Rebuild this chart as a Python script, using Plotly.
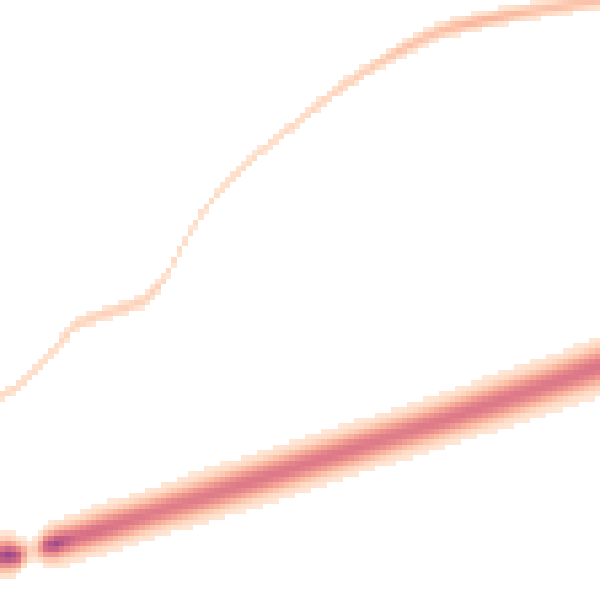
import numpy as np
import plotly.graph_objects as go

# Grid of bins (columns x rows)
n_cols = 112
n_rows = 112
extent = 600.0

# Upper thin curve: key positions (x, centre y, peak density)
upper_x = [0, 20, 45, 75, 100, 125, 145, 155, 165, 180, 200, 225, 260, 300, 340, 380, 410, 430, 450, 480, 510, 540, 570, 600]
upper_y = [397, 385, 360, 325, 315, 308, 300, 290, 278, 250, 215, 185, 152, 120, 88, 62, 45, 35, 28, 21, 15, 10, 5, 1]
upper_peak = [0.22, 0.22, 0.2, 0.24, 0.26, 0.26, 0.26, 0.26, 0.22, 0.2, 0.2, 0.2, 0.2, 0.22, 0.25, 0.3, 0.36, 0.34, 0.38, 0.42, 0.4, 0.34, 0.36, 0.34]
upper_width = [5, 5, 5, 6, 6, 6, 6, 6, 5, 5, 5, 5, 5, 5, 6, 6, 7, 7, 7, 7, 7, 7, 7, 7]

# Lower thick band: key positions (x, centre y, peak density, half width)
band_x = [0, 10, 20, 28, 36, 45, 55, 75, 100, 150, 200, 250, 300, 350, 400, 450, 500, 550, 600]
band_y = [556, 555, 556, 552, 549, 546, 544, 538, 530, 514, 498, 482, 466, 450, 434, 418, 401, 384, 366]
band_peak = [0.92, 1.0, 0.85, 0.25, 0.3, 0.85, 0.98, 0.8, 0.78, 0.72, 0.72, 0.74, 0.74, 0.74, 0.72, 0.74, 0.74, 0.74, 0.76]
band_width = [15, 15, 12, 10, 10, 13, 15, 16, 17, 17, 18, 18, 18, 18, 18, 18, 19, 19, 20]

cell = extent / n_cols
xc = (np.arange(n_cols) + 0.5) * cell
yc = (np.arange(n_rows) + 0.5) * (extent / n_rows)

z = np.zeros((n_rows, n_cols))
uy = np.interp(xc, upper_x, upper_y)
up = np.interp(xc, upper_x, upper_peak)
uw = np.interp(xc, upper_x, upper_width)
by = np.interp(xc, band_x, band_y)
bp = np.interp(xc, band_x, band_peak)
bw = np.interp(xc, band_x, band_width)
for i in range(n_cols):
    d1 = (yc - uy[i]) / uw[i]
    d2 = (yc - by[i]) / bw[i]
    z[:, i] = up[i] * np.exp(-d1 ** 2) + bp[i] * np.exp(-d2 ** 2)
z[z < 0.07] = np.nan

colorscale = [
    [0.0, "rgb(254,238,226)"],
    [0.2, "rgb(254,220,198)"],
    [0.4, "rgb(250,184,160)"],
    [0.6, "rgb(236,146,142)"],
    [0.8, "rgb(214,110,134)"],
    [1.0, "rgb(152,70,138)"],
]

fig = go.Figure(
    go.Heatmap(
        x=xc, y=yc, z=z, zmin=0, zmax=1,
        colorscale=colorscale, showscale=False, zsmooth=False,
        hoverongaps=False,
    )
)
fig.update_layout(
    width=600, height=600,
    margin=dict(l=0, r=0, t=0, b=0),
    paper_bgcolor="white", plot_bgcolor="white",
    xaxis=dict(visible=False, range=[0, extent]),
    yaxis=dict(visible=False, range=[extent, 0]),
)
fig.write_html(
    "out.html",
    config={"displayModeBar": False},
    post_script="document.body.style.margin='0';document.body.style.padding='0';document.body.style.overflow='hidden';",
)
